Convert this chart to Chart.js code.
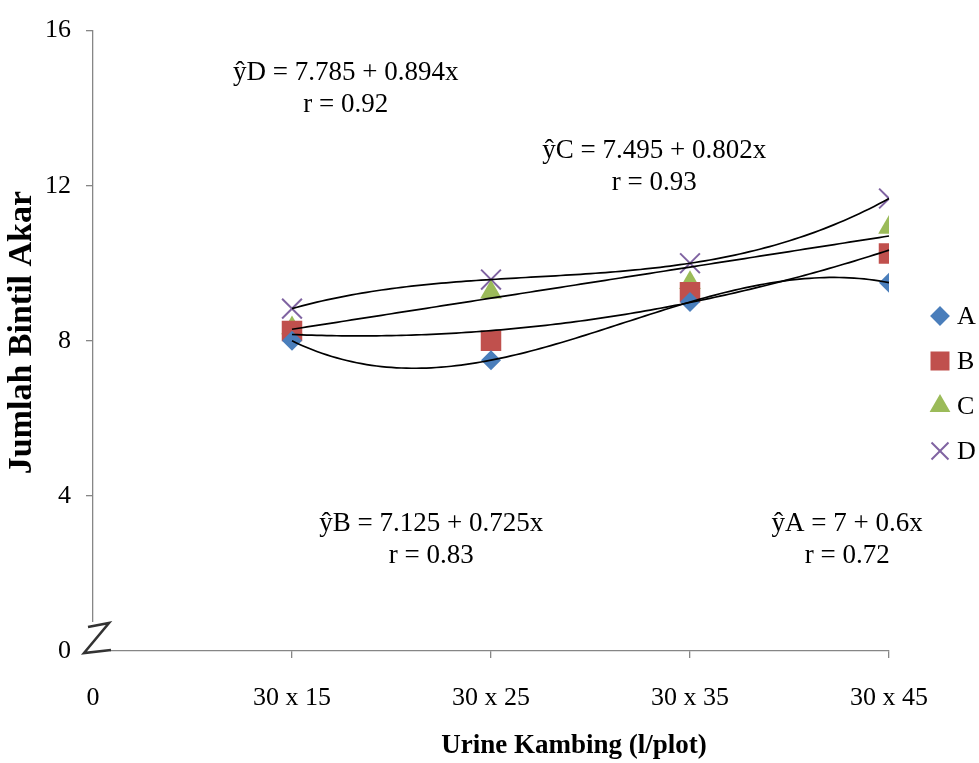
<!DOCTYPE html>
<html lang="en">

<head>
    <meta charset="UTF-8">
    <title>Jumlah Bintil Akar</title>
    <script src="https://cdn.jsdelivr.net/npm/chart.js@4.4.1/dist/chart.umd.min.js"></script>
    <style>
        body {
            margin: 0;
            background: white;
        }

        #wrap {
            width: 979px;
            height: 763px;
            position: relative;
        }
    </style>
</head>

<body>
    <div id="wrap">
        <canvas id="myChart"></canvas>
    </div>

    <script>
        // spacing treatments on the x axis (0 = origin)
        const xTickLabels = ['0', '30 x 15', '30 x 25', '30 x 35', '30 x 45']
        const xPos = [1, 2, 3, 4]

        const seriesA = [8, 7.5, 9, 9.5]
        const seriesB = [8.25, 8, 9.25, 10.25]
        const seriesC = [8.33, 9.25, 9.5, 10.92]
        const seriesD = [8.83, 9.58, 10, 11.67]

        const seriesNames = ['A', 'B', 'C', 'D']
        const seriesColors = ['#4a7ebb', '#c0504d', '#9bbb59', '#8064a2']
        // polynomial order of the trend curve drawn for each series
        const trendOrder = [3, 2, 1, 3]

        const equations = [
            ['ŷA = 7 + 0.6x', 'r = 0.72'],
            ['ŷB = 7.125 + 0.725x', 'r = 0.83'],
            ['ŷC = 7.495 + 0.802x', 'r = 0.93'],
            ['ŷD = 7.785 + 0.894x', 'r = 0.92'],
        ]
        // where each equation sits, in axis units (centre of first line)
        const equationAt = [[3.79, 3.28], [1.70, 3.28], [2.82, 12.9], [1.27, 14.9]]

        const AXIS = '#868686'
        const SERIF = "'Liberation Serif', 'Times New Roman', serif"

        const allSeries = [seriesA, seriesB, seriesC, seriesD]

        const markers = [
            { pointStyle: 'rectRot', radius: 10, legendRadius: 8.5 },
            { pointStyle: 'rect', radius: 14.5, legendRadius: 12 },
            { pointStyle: 'triangle', radius: 12.5, legendRadius: 10 },
            { pointStyle: 'crossRot', radius: 14, legendRadius: 12 },
        ]

        // least squares polynomial fit, returns coefficients c0..cn
        function polyFit(xs, ys, order) {
            const n = order + 1
            const m = []
            for (let i = 0; i < n; i++) {
                const row = []
                for (let j = 0; j < n; j++) {
                    row.push(xs.reduce((s, x) => s + Math.pow(x, i + j), 0))
                }
                row.push(xs.reduce((s, x, k) => s + Math.pow(x, i) * ys[k], 0))
                m.push(row)
            }
            for (let c = 0; c < n; c++) {
                let p = c
                for (let r = c + 1; r < n; r++) if (Math.abs(m[r][c]) > Math.abs(m[p][c])) p = r
                const tmp = m[c]; m[c] = m[p]; m[p] = tmp
                for (let r = 0; r < n; r++) {
                    if (r === c) continue
                    const f = m[r][c] / m[c][c]
                    for (let k = c; k <= n; k++) m[r][k] -= f * m[c][k]
                }
            }
            return m.map((row, i) => row[n] / row[i])
        }

        const trendPlugin = {
            id: 'trend',
            afterDatasetsDraw(chart) {
                const { ctx, scales: { x, y } } = chart
                ctx.save()
                ctx.strokeStyle = '#000'
                ctx.lineWidth = 1.7
                allSeries.forEach((ys, s) => {
                    const coef = polyFit(xPos, ys, trendOrder[s])
                    const x0 = xPos[0], x1 = xPos[xPos.length - 1]
                    ctx.beginPath()
                    for (let i = 0; i <= 120; i++) {
                        const xv = x0 + (x1 - x0) * i / 120
                        const yv = coef.reduce((acc, c, k) => acc + c * Math.pow(xv, k), 0)
                        const px = x.getPixelForValue(xv), py = y.getPixelForValue(yv)
                        if (i === 0) ctx.moveTo(px, py)
                        else ctx.lineTo(px, py)
                    }
                    ctx.stroke()
                })
                ctx.restore()
            },
            afterDraw(chart) {
                const { ctx, chartArea, scales: { x, y } } = chart
                ctx.save()

                // axis break at the origin
                const ox = chartArea.left, oy = chartArea.bottom
                ctx.fillStyle = 'white'
                ctx.fillRect(ox - 5, oy - 29, 22, 36)
                ctx.strokeStyle = '#333'
                ctx.lineWidth = 2.6
                ctx.lineJoin = 'miter'
                ctx.beginPath()
                ctx.moveTo(ox - 5, oy - 24)
                ctx.lineTo(ox + 16, oy - 28)
                ctx.lineTo(ox - 9, oy + 2)
                ctx.lineTo(ox + 18, oy - 1)
                ctx.stroke()

                // regression equations
                ctx.fillStyle = '#000'
                ctx.font = '27px ' + SERIF
                ctx.textAlign = 'center'
                ctx.textBaseline = 'middle'
                equations.forEach((lines, i) => {
                    const px = x.getPixelForValue(equationAt[i][0])
                    const py = y.getPixelForValue(equationAt[i][1])
                    lines.forEach((t, k) => ctx.fillText(t, px, py + k * 32))
                })

                // axis titles
                ctx.font = 'bold 27px ' + SERIF
                ctx.fillText('Urine Kambing (l/plot)', chartArea.right - 315, 746)

                ctx.save()
                ctx.translate(22, chartArea.top + 302)
                ctx.rotate(-Math.PI / 2)
                ctx.font = 'bold 34px ' + SERIF
                ctx.fillText('Jumlah Bintil Akar', 0, 0)
                ctx.restore()

                // legend
                const lx = chartArea.right + 51
                ctx.font = '26px ' + SERIF
                ctx.textAlign = 'left'
                seriesNames.forEach((name, i) => {
                    const ly = 316 + i * 45
                    ctx.fillStyle = seriesColors[i]
                    ctx.strokeStyle = seriesColors[i]
                    ctx.lineWidth = 2
                    Chart.helpers.drawPoint(ctx, {
                        pointStyle: markers[i].pointStyle,
                        radius: markers[i].legendRadius,
                        rotation: 0,
                        borderWidth: 2,
                    }, lx, ly)
                    ctx.fillStyle = '#000'
                    ctx.fillText(name, lx + 17, ly + 1)
                })
                ctx.restore()
            }
        }

        const datasets = allSeries.map((ys, i) => ({
            label: seriesNames[i],
            data: xPos.map((xv, k) => ({ x: xv, y: ys[k] })),
            showLine: false,
            pointStyle: markers[i].pointStyle,
            pointRadius: markers[i].radius,
            backgroundColor: seriesColors[i],
            borderColor: seriesColors[i],
            pointBorderWidth: i === 3 ? 2 : 0,
        }))

        const chart = new Chart('myChart', {
            type: 'scatter',
            data: { datasets },
            options: {
                responsive: true,
                maintainAspectRatio: false,
                animation: false,
                layout: {
                    padding: { left: 0, top: 27, right: 90, bottom: 0 }
                },
                plugins: {
                    legend: { display: false },
                    tooltip: { enabled: false },
                },
                scales: {
                    x: {
                        type: 'linear',
                        min: 0,
                        max: 4,
                        afterFit: (scale) => { scale.height = 112 },
                        afterBuildTicks: (scale) => {
                            scale.ticks = xTickLabels.map((_, i) => ({ value: i }))
                        },
                        ticks: {
                            stepSize: 1,
                            padding: 25,
                            color: '#000',
                            font: { family: SERIF, size: 26 },
                            callback: (v) => xTickLabels[v],
                            maxRotation: 0,
                        },
                        grid: {
                            drawOnChartArea: false,
                            tickLength: 7,
                            tickColor: (c) => c.tick && c.tick.value === 0 ? 'rgba(0,0,0,0)' : AXIS,
                            lineWidth: 1.3,
                        },
                        border: { color: AXIS, width: 1.3 },
                    },
                    y: {
                        min: 0,
                        max: 16,
                        afterFit: (scale) => { scale.width = 93 },
                        ticks: {
                            stepSize: 4,
                            padding: 15,
                            color: '#000',
                            font: { family: SERIF, size: 26 },
                        },
                        grid: {
                            drawOnChartArea: false,
                            tickLength: 7,
                            tickColor: (c) => c.tick && c.tick.value === 0 ? 'rgba(0,0,0,0)' : AXIS,
                            lineWidth: 1.3,
                        },
                        border: { color: AXIS, width: 1.3 },
                    },
                },
            },
            plugins: [trendPlugin],
        })
    </script>
</body>

</html>
